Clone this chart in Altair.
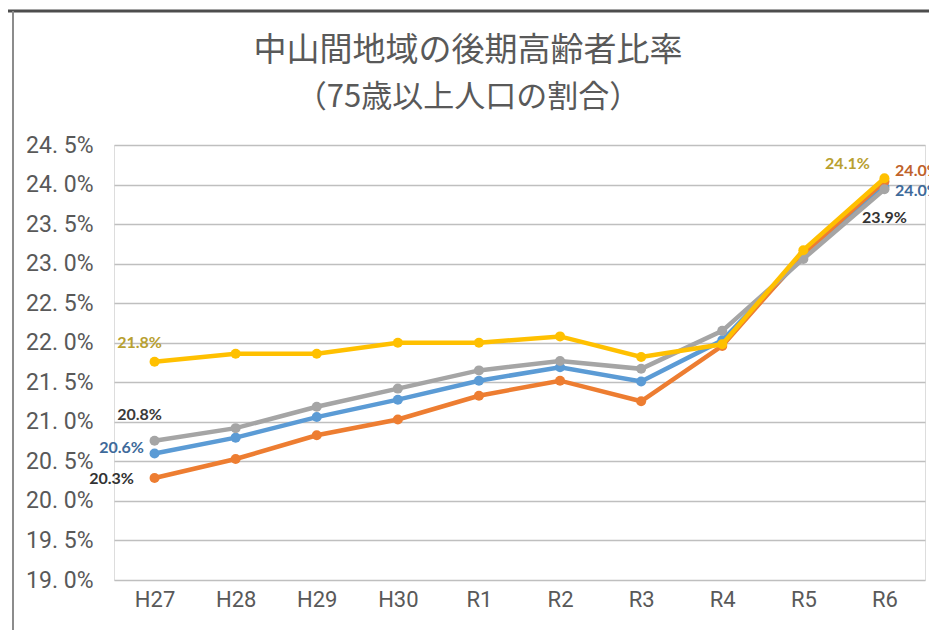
import altair as alt
import pandas as pd

years = ["H27", "H28", "H29", "H30", "R1", "R2", "R3", "R4", "R5", "R6"]
series_names = ["系列1", "系列2", "系列3", "系列4"]
s1_blue = [20.60, 20.80, 21.06, 21.28, 21.52, 21.69, 21.51, 22.03, 23.09, 23.97]
s2_orange = [20.29, 20.53, 20.83, 21.03, 21.33, 21.52, 21.26, 21.96, 23.12, 24.04]
s3_gray = [20.76, 20.92, 21.19, 21.42, 21.65, 21.77, 21.67, 22.15, 23.06, 23.94]
s4_yellow = [21.76, 21.86, 21.86, 22.00, 22.00, 22.08, 21.82, 21.98, 23.17, 24.08]
y_ticks = [19.0, 19.5, 20.0, 20.5, 21.0, 21.5, 22.0, 22.5, 23.0, 23.5, 24.0, 24.5]
title_lines = ["中山間地域の後期高齢者比率", "（75歳以上人口の割合）"]

colors = ["#5B9BD5", "#ED7D31", "#A5A5A5", "#FFC000"]
values = [s1_blue, s2_orange, s3_gray, s4_yellow]

rows = []
for name, vals in zip(series_names, values):
    for yr, v in zip(years, vals):
        rows.append({"年度": yr, "系列": name, "値": v})
df = pd.DataFrame(rows)

x_enc = alt.X("年度:N", sort=years, scale=alt.Scale(paddingInner=0, paddingOuter=0.5),
              axis=alt.Axis(title=None, labelAngle=0, ticks=False, domain=False, grid=False,
                            labelFont="Roboto, sans-serif",
                            labelFontSize=22, labelColor="#595959", labelPadding=9))
y_enc = alt.Y("値:Q", scale=alt.Scale(domain=[19.0, 24.5], nice=False, zero=False),
              axis=alt.Axis(title=None, values=y_ticks, ticks=False, domain=False,
                            labelExpr="replace(format(datum.value, '.1f'), '.', '. ') + '%'",
                            labelFont="Roboto, sans-serif",
                            labelFontSize=23, labelColor="#595959", labelPadding=21,
                            gridColor="#BFBFBF", gridWidth=1.5))

base = alt.Chart(df)
layers = []
for name, col in zip(series_names, colors):
    sub = base.transform_filter(alt.datum["系列"] == name)
    layers.append(sub.mark_line(color=col, strokeWidth=4.5).encode(x=x_enc, y=y_enc))
    layers.append(sub.mark_point(color=col, filled=True, opacity=1, size=100).encode(x=x_enc, y=y_enc))

# data labels: (series, year, dx, dy, color)
label_specs = [
    ("系列4", "H27", -15, -19, "#B8A030"),
    ("系列3", "H27", -15, -26, "#3A3A3A"),
    ("系列1", "H27", -33, -5, "#3E6A9A"),
    ("系列2", "H27", -43, 1, "#333333"),
    ("系列4", "R6", -37, -14, "#B8A030"),
    ("系列2", "R6", 33, -10, "#C0622A"),
    ("系列1", "R6", 33, 4, "#3E6A9A"),
    ("系列3", "R6", 0, 29, "#333333"),
]
for name, yr, dx, dy, col in label_specs:
    layers.append(
        base.transform_filter((alt.datum["系列"] == name) & (alt.datum["年度"] == yr))
        .transform_calculate(lbl="format(datum['値'], '.1f') + '%'")
        .mark_text(font="Lato", fontWeight="bold", fontSize=16, color=col, dx=dx, dy=dy)
        .encode(x=x_enc, y=y_enc, text="lbl:N")
    )

# chart title (two lines), frame lines
title_df = pd.DataFrame({"t": title_lines, "i": [0, 1]})
tchart = alt.Chart(title_df)
for i, (ypix, fs) in enumerate([(-94, 33), (-47, 31)]):
    layers.append(
        tchart.transform_filter(alt.datum.i == i)
        .mark_text(font="Noto Sans CJK JP", fontSize=fs, color="#595959", align="center", baseline="middle")
        .encode(x=alt.value(354), y=alt.value(ypix), text="t:N")
    )

frame = alt.Chart(alt.Data(values=[{}]))
layers.append(frame.mark_rule(color="#4D4D4D", strokeWidth=3).encode(
    x=alt.value(-106), x2=alt.value(830), y=alt.value(-134)))
layers.append(frame.mark_rule(color="#8C8C8C", strokeWidth=2).encode(
    x=alt.value(-101), y=alt.value(-134), y2=alt.value(500)))

chart = alt.layer(*layers).properties(
    width=811, height=435,
    autosize=alt.AutoSizeParams(type="none"),
    padding={"left": 106, "top": 137, "right": 4, "bottom": 50},
).configure_view(stroke=None).configure(background="white")

chart.save("out.html", embed_options={"renderer": "svg", "actions": False})
